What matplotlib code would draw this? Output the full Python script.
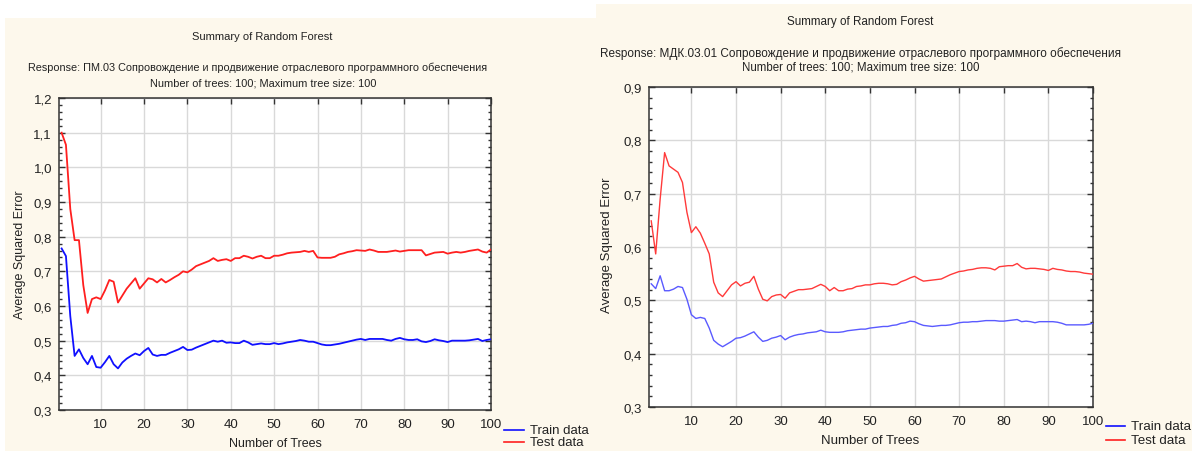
import matplotlib
matplotlib.use("Agg")
import matplotlib.pyplot as plt
from matplotlib.patches import Rectangle
from matplotlib.lines import Line2D
from matplotlib.ticker import MultipleLocator, FuncFormatter

plt.rcParams['font.family'] = ['Liberation Sans', 'DejaVu Sans']

trees = list(range(1, 101))

left_train = [
    0.766, 0.744, 0.571, 0.456, 0.475, 0.45, 0.432, 0.456, 0.424, 0.422,
    0.438, 0.456, 0.432, 0.42, 0.437, 0.448, 0.456, 0.463, 0.458, 0.47,
    0.479, 0.46, 0.456, 0.459, 0.459, 0.465, 0.47, 0.475, 0.482, 0.473,
    0.474, 0.48, 0.485, 0.49, 0.495, 0.50, 0.497, 0.50, 0.494, 0.495,
    0.493, 0.493, 0.50, 0.495, 0.488, 0.49, 0.492, 0.49, 0.49, 0.493,
    0.49, 0.492, 0.495, 0.497, 0.499, 0.502, 0.500, 0.497, 0.497, 0.493,
    0.489, 0.487, 0.487, 0.489, 0.491, 0.494, 0.497, 0.500, 0.503, 0.505,
    0.502, 0.505, 0.505, 0.505, 0.505, 0.502, 0.500, 0.505, 0.508, 0.504,
    0.502, 0.502, 0.504, 0.498, 0.496, 0.499, 0.504, 0.501, 0.499, 0.496,
    0.500, 0.500, 0.500, 0.500, 0.501, 0.503, 0.505, 0.499, 0.502, 0.504,
]
left_test = [
    1.10, 1.065, 0.88, 0.79, 0.79, 0.66, 0.58, 0.62, 0.625, 0.62,
    0.645, 0.675, 0.67, 0.61, 0.63, 0.65, 0.665, 0.68, 0.65, 0.665,
    0.68, 0.677, 0.668, 0.678, 0.668, 0.675, 0.683, 0.69, 0.70, 0.697,
    0.705, 0.715, 0.72, 0.725, 0.73, 0.738, 0.73, 0.733, 0.735, 0.73,
    0.738, 0.738, 0.745, 0.742, 0.737, 0.742, 0.745, 0.738, 0.738, 0.745,
    0.745, 0.748, 0.752, 0.754, 0.755, 0.756, 0.759, 0.756, 0.759, 0.740,
    0.739, 0.739, 0.739, 0.742, 0.749, 0.752, 0.756, 0.758, 0.761, 0.760,
    0.759, 0.763, 0.760, 0.756, 0.756, 0.756, 0.758, 0.760, 0.757, 0.759,
    0.761, 0.761, 0.761, 0.761, 0.746, 0.750, 0.754, 0.755, 0.756, 0.751,
    0.754, 0.756, 0.754, 0.756, 0.759, 0.761, 0.763, 0.757, 0.754, 0.763,
]
right_train = [
    0.531, 0.522, 0.546, 0.518, 0.518, 0.521, 0.526, 0.524, 0.502, 0.473,
    0.466, 0.468, 0.466, 0.448, 0.425, 0.418, 0.413, 0.418, 0.423, 0.429,
    0.43, 0.433, 0.437, 0.441, 0.431, 0.423, 0.425, 0.429, 0.431, 0.434,
    0.426, 0.431, 0.434, 0.436, 0.437, 0.439, 0.44, 0.441, 0.444, 0.441,
    0.44, 0.44, 0.44, 0.441, 0.443, 0.444, 0.445, 0.446, 0.446, 0.448,
    0.449, 0.45, 0.451, 0.451, 0.453, 0.454, 0.457, 0.458, 0.461, 0.460,
    0.456, 0.453, 0.452, 0.451, 0.452, 0.453, 0.453, 0.454, 0.456, 0.458,
    0.459, 0.459, 0.460, 0.460, 0.461, 0.462, 0.462, 0.462, 0.461, 0.461,
    0.462, 0.463, 0.464, 0.460, 0.461, 0.460, 0.458, 0.460, 0.460, 0.460,
    0.460, 0.459, 0.457, 0.454, 0.454, 0.454, 0.454, 0.454, 0.455, 0.457,
]
right_test = [
    0.649, 0.587, 0.69, 0.777, 0.752, 0.746, 0.74, 0.721, 0.665, 0.627,
    0.638, 0.626, 0.607, 0.587, 0.534, 0.514, 0.507, 0.518, 0.529, 0.535,
    0.527, 0.532, 0.534, 0.545, 0.521, 0.502, 0.499, 0.507, 0.51, 0.511,
    0.504, 0.514, 0.517, 0.52, 0.52, 0.521, 0.522, 0.526, 0.53, 0.526,
    0.518, 0.524, 0.518, 0.518, 0.521, 0.522, 0.526, 0.527, 0.529, 0.529,
    0.531, 0.532, 0.532, 0.531, 0.529, 0.530, 0.535, 0.538, 0.542, 0.545,
    0.540, 0.536, 0.537, 0.538, 0.539, 0.540, 0.544, 0.548, 0.551, 0.554,
    0.555, 0.557, 0.558, 0.560, 0.561, 0.561, 0.560, 0.557, 0.563, 0.564,
    0.565, 0.565, 0.569, 0.562, 0.559, 0.560, 0.560, 0.559, 0.558, 0.556,
    0.560, 0.558, 0.557, 0.555, 0.554, 0.554, 0.553, 0.551, 0.550, 0.549,
]

main_title = "Summary of Random Forest"
left_response = "Response: ПМ.03 Сопровождение и продвижение отраслевого программного обеспечения"
right_response = "Response: МДК.03.01 Сопровождение и продвижение отраслевого программного обеспечения"
subtitle = "Number of trees: 100; Maximum tree size: 100"
xlabel = "Number of Trees"
ylabel = "Average Squared Error"
legend_labels = ["Train data", "Test data"]
x_ticks = [10, 20, 30, 40, 50, 60, 70, 80, 90, 100]

W, H = 1192, 452
fig = plt.figure(figsize=(W / 100, H / 100), dpi=100, facecolor='white')
cream = '#FDF8EC'

def px_rect(x0, y0, x1, y1):
    return (x0 / W, 1 - y1 / H, (x1 - x0) / W, (y1 - y0) / H)

for (x0, y0, x1, y1) in [(5, 19, 596, 452), (596, 5, 1192, 452)]:
    l, b, w, h = px_rect(x0, y0, x1, y1)
    fig.patches.append(Rectangle((l, b), w, h, transform=fig.transFigure,
                                 facecolor=cream, edgecolor='none', zorder=-10))

comma = FuncFormatter(lambda v, p: ('%.1f' % v).replace('.', ','))

def make_axes(box, ylim, major, xlim0, train, test, train_c, test_c, lw):
    x0, y0, x1, y1 = box
    ax = fig.add_axes(px_rect(x0, y0, x1, y1))
    ax.set_facecolor('white')
    ax.plot(trees, train, color=train_c, lw=lw, zorder=3)
    ax.plot(trees, test, color=test_c, lw=lw, zorder=3)
    ax.set_xlim(xlim0, 100)
    ax.set_ylim(*ylim)
    ax.set_xticks(x_ticks)
    ax.yaxis.set_major_locator(MultipleLocator(major))
    ax.yaxis.set_minor_locator(MultipleLocator(major / 5))
    ax.yaxis.set_major_formatter(comma)
    ax.grid(True, which='major', color='#D9D9D9', lw=1.0, zorder=0)
    ax.tick_params(axis='both', which='major', direction='in', length=4,
                   width=1, color='#333333', labelsize=9.5, labelcolor='#222222',
                   top=True, right=True, bottom=False, pad=5)
    ax.tick_params(axis='x', which='major', pad=6)
    ax.tick_params(axis='y', which='minor', direction='in', length=2,
                   width=1, color='#333333', left=True, right=True)
    for s in ax.spines.values():
        s.set_color('#333333')
        s.set_linewidth(1.1)
    return ax

axL = make_axes((59, 99, 491, 411), (0.3, 1.2), 0.1, 0.4,
                left_train, left_test, '#1010FF', '#FF1F1F', 1.3)
axR = make_axes((649, 88, 1093, 408), (0.3, 0.9), 0.1, 0.5,
                right_train, right_test, '#5A5AFF', '#FF3A3A', 1.0)

def ftext(x, y, s, **kw):
    fig.text(x / W, 1 - y / H, s, ha=kw.pop('ha', 'center'), va=kw.pop('va', 'center'),
             color=kw.pop('color', '#222222'), **kw)

# left titles
ftext(262, 37, main_title, fontsize=8)
ftext(258, 68, left_response, fontsize=7.8)
ftext(263, 83, subtitle, fontsize=7.9)
ftext(275, 444, xlabel, fontsize=9)
ftext(20, 255, ylabel, fontsize=9, rotation=90)

# right titles
ftext(860, 22, main_title, fontsize=8.4)
ftext(860, 54, right_response, fontsize=8.5)
ftext(861, 68, subtitle, fontsize=8.3)
ftext(870, 441, xlabel, fontsize=9.5)
ftext(607, 245, ylabel, fontsize=9.5, rotation=90)

# legends
def legend(x0, x1, xt, ys, colors, fs):
    for y, c, lab in zip(ys, colors, legend_labels):
        fig.add_artist(Line2D([x0 / W, x1 / W], [1 - y / H, 1 - y / H],
                              transform=fig.transFigure, color=c, lw=1.2))
        ftext(xt, y, lab, fontsize=fs, ha='left')

legend(504, 524, 530, [431, 443], ['#1010FF', '#FF1F1F'], 9.5)
legend(1106, 1125, 1131, [427, 441], ['#1010FF', '#FF1F1F'], 9.6)

fig.savefig('out.png', dpi=100, facecolor='white')
